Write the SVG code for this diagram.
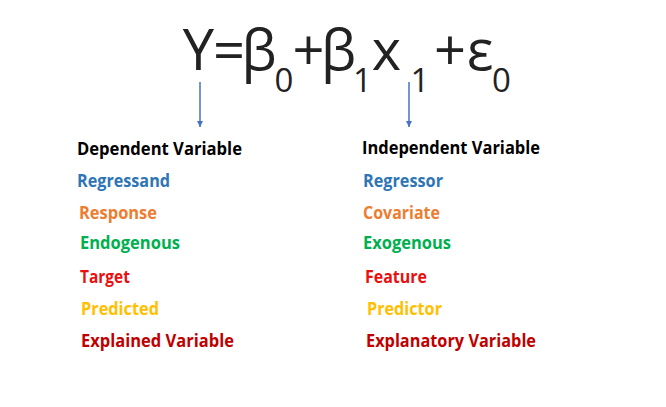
<svg xmlns="http://www.w3.org/2000/svg" width="666" height="407" viewBox="0 0 666 407">
<style>
.eq{font-family:"Open Sans","DejaVu Sans",sans-serif;fill:#222;text-anchor:middle}
.big{font-size:56px}
.sub{font-size:33px}
.lbl{font-family:"Open Sans","Liberation Sans",sans-serif;font-weight:bold;font-size:17px}
.k{fill:#000}.b{fill:#2E75B6}.o{fill:#ED7D31}.g{fill:#00B050}.r{fill:#E81010}.y{fill:#FFC000}.d{fill:#C00000}
.arr{stroke:#4472C4;stroke-width:1.5;fill:none;marker-end:url(#ah)}
</style>
<defs>
<marker id="ah" viewBox="0 0 10 10" refX="10" refY="5" markerWidth="6" markerHeight="6" markerUnits="userSpaceOnUse" orient="auto">
<path d="M0,0 L10,5 L0,10 z" fill="#4472C4"/>
</marker>
</defs>
<rect width="666" height="407" fill="#fff"/>
<g id="equation">
<text class="eq"><tspan class="big" x="198.5" y="70">Y</tspan><tspan class="big" x="229" y="70">=</tspan><tspan class="big" x="259" y="70">β</tspan><tspan class="sub" x="284" y="92">0</tspan><tspan class="big" x="308.5" y="70">+</tspan><tspan class="big" x="338.5" y="70">β</tspan><tspan class="sub" x="362.5" y="92">1</tspan><tspan class="big" x="386.5" y="70">x</tspan><tspan class="sub" x="420" y="92">1</tspan><tspan class="big" x="450" y="70">+</tspan><tspan class="big" x="480" y="70">ε</tspan><tspan class="sub" x="501.5" y="92">0</tspan></text>
</g>
<g id="connectors">
<line class="arr" x1="200" y1="82" x2="200" y2="127"/>
<line class="arr" x1="409" y1="82" x2="409" y2="127"/>
</g>
<g id="dependent">
<text class="lbl k" x="77" y="155" textLength="165" lengthAdjust="spacingAndGlyphs">Dependent Variable</text>
<text class="lbl b" x="77" y="187" textLength="93" lengthAdjust="spacingAndGlyphs">Regressand</text>
<text class="lbl o" x="79" y="219" textLength="78" lengthAdjust="spacingAndGlyphs">Response</text>
<text class="lbl g" x="80" y="249" textLength="100" lengthAdjust="spacingAndGlyphs">Endogenous</text>
<text class="lbl r" x="80" y="283" textLength="50" lengthAdjust="spacingAndGlyphs">Target</text>
<text class="lbl y" x="81" y="315" textLength="78" lengthAdjust="spacingAndGlyphs">Predicted</text>
<text class="lbl d" x="81" y="347" textLength="153" lengthAdjust="spacingAndGlyphs">Explained Variable</text>
</g>
<g id="independent">
<text class="lbl k" x="362" y="154" textLength="178" lengthAdjust="spacingAndGlyphs">Independent Variable</text>
<text class="lbl b" x="363" y="187" textLength="80" lengthAdjust="spacingAndGlyphs">Regressor</text>
<text class="lbl o" x="363" y="219" textLength="77" lengthAdjust="spacingAndGlyphs">Covariate</text>
<text class="lbl g" x="363" y="249" textLength="88" lengthAdjust="spacingAndGlyphs">Exogenous</text>
<text class="lbl r" x="365" y="283" textLength="62" lengthAdjust="spacingAndGlyphs">Feature</text>
<text class="lbl y" x="367" y="315" textLength="75" lengthAdjust="spacingAndGlyphs">Predictor</text>
<text class="lbl d" x="366" y="347" textLength="170" lengthAdjust="spacingAndGlyphs">Explanatory Variable</text>
</g>
</svg>
